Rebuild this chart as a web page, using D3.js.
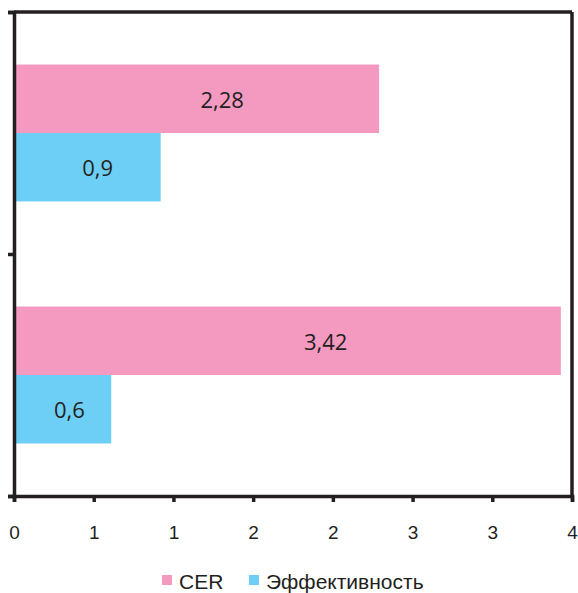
<!DOCTYPE html>
<html>
<head>
<meta charset="utf-8">
<script src="https://cdn.jsdelivr.net/npm/d3@7"></script>
<style>
  html, body { margin: 0; padding: 0; background: #ffffff; }
  #chart { width: 578px; height: 593px; }
</style>
</head>
<body>
<div id="chart"></div>
<script>
// categories (top to bottom), no names shown on the axis
const categorias = ["Группа 1", "Группа 2"];
const series = ["CER", "Эффективность"];
const colores = ["#f49ac1", "#6dcff6"];

// bar lengths
const valoresCER = [2.29, 3.43];
const valoresEfect = [0.92, 0.61];

// data labels as printed on the bars
const etiquetasCER = ["2,28", "3,42"];
const etiquetasEfect = ["0,9", "0,6"];

// x ticks and their (rounded) labels
const ticksX = [0, 0.5, 1, 1.5, 2, 2.5, 3, 3.5];
const etiquetasX = ["0", "1", "1", "2", "2", "3", "3", "4"];

const width = 578, height = 593;
const margin = { top: 12, right: 6, bottom: 97, left: 14 };
const innerW = width - margin.left - margin.right;
const innerH = height - margin.top - margin.bottom;
const colorEje = "#231f20";

const datos = [];
categorias.forEach((c, i) => {
  datos.push({ cat: c, serie: series[0], valor: valoresCER[i], etiqueta: etiquetasCER[i] });
  datos.push({ cat: c, serie: series[1], valor: valoresEfect[i], etiqueta: etiquetasEfect[i] });
});

const svg = d3.select("#chart").append("svg")
  .attr("width", width)
  .attr("height", height);

const g = svg.append("g").attr("transform", `translate(${margin.left},${margin.top})`);

const x = d3.scaleLinear().domain([0, 3.5]).range([0, innerW]);

const y0 = d3.scaleBand()
  .domain(categorias)
  .range([0, innerH])
  .paddingInner(0.434)
  .paddingOuter(0.217);

const y1 = d3.scaleBand().domain(series).range([0, y0.bandwidth()]);
const color = d3.scaleOrdinal().domain(series).range(colores);

// bars
g.selectAll("rect.bar")
  .data(datos)
  .join("rect")
  .attr("class", "bar")
  .attr("x", x(0))
  .attr("y", d => y0(d.cat) + y1(d.serie))
  .attr("width", d => x(d.valor) - x(0))
  .attr("height", y1.bandwidth())
  .attr("fill", d => color(d.serie));

// data labels
g.selectAll("text.lbl")
  .data(datos)
  .join("text")
  .attr("class", "lbl")
  .attr("x", d => x(d.valor * 0.57))
  .attr("y", d => y0(d.cat) + y1(d.serie) + y1.bandwidth() / 2 + 3)
  .attr("text-anchor", "middle")
  .attr("dominant-baseline", "middle")
  .attr("font-family", "'Open Sans', sans-serif")
  .attr("font-size", 22)
  .attr("fill", colorEje)
  .text(d => d.etiqueta);

// frame: top and right lines
g.append("line")
  .attr("x1", 0).attr("x2", innerW)
  .attr("y1", 0).attr("y2", 0)
  .attr("stroke", colorEje).attr("stroke-width", 3.5);
g.append("line")
  .attr("x1", innerW).attr("x2", innerW)
  .attr("y1", 0).attr("y2", innerH)
  .attr("stroke", colorEje).attr("stroke-width", 3.5);

// y axis, ticks on category boundaries
const yEje = g.append("g")
  .call(d3.axisLeft(d3.scaleLinear().domain([0, 2]).range([0, innerH]))
    .tickValues([0, 1, 2]).tickSize(6).tickFormat(""));

// x axis
const xEje = g.append("g")
  .attr("transform", `translate(0,${innerH})`)
  .call(d3.axisBottom(x).tickValues(ticksX).tickSize(6).tickPadding(24)
    .tickFormat((d, i) => etiquetasX[i]));

[yEje, xEje].forEach(ax => {
  ax.select(".domain").attr("stroke", colorEje).attr("stroke-width", 3.5);
  ax.selectAll(".tick line").attr("stroke", colorEje).attr("stroke-width", 3.5);
});
xEje.selectAll(".tick text")
  .attr("fill", colorEje)
  .attr("font-family", "'Liberation Sans', Arial, sans-serif")
  .attr("font-size", 19);

// legend
const leyenda = svg.append("g").attr("transform", "translate(162,581)");
const posLeyenda = [0, 87];
series.forEach((s, i) => {
  const it = leyenda.append("g").attr("transform", `translate(${posLeyenda[i]},0)`);
  it.append("rect")
    .attr("x", 0).attr("y", -6)
    .attr("width", 10).attr("height", 10)
    .attr("fill", colores[i]);
  it.append("text")
    .attr("x", 17).attr("y", 0)
    .attr("dominant-baseline", "central")
    .attr("font-family", "'Liberation Sans', Arial, sans-serif")
    .attr("font-size", 21)
    .attr("fill", colorEje)
    .text(s);
});
</script>
</body>
</html>
